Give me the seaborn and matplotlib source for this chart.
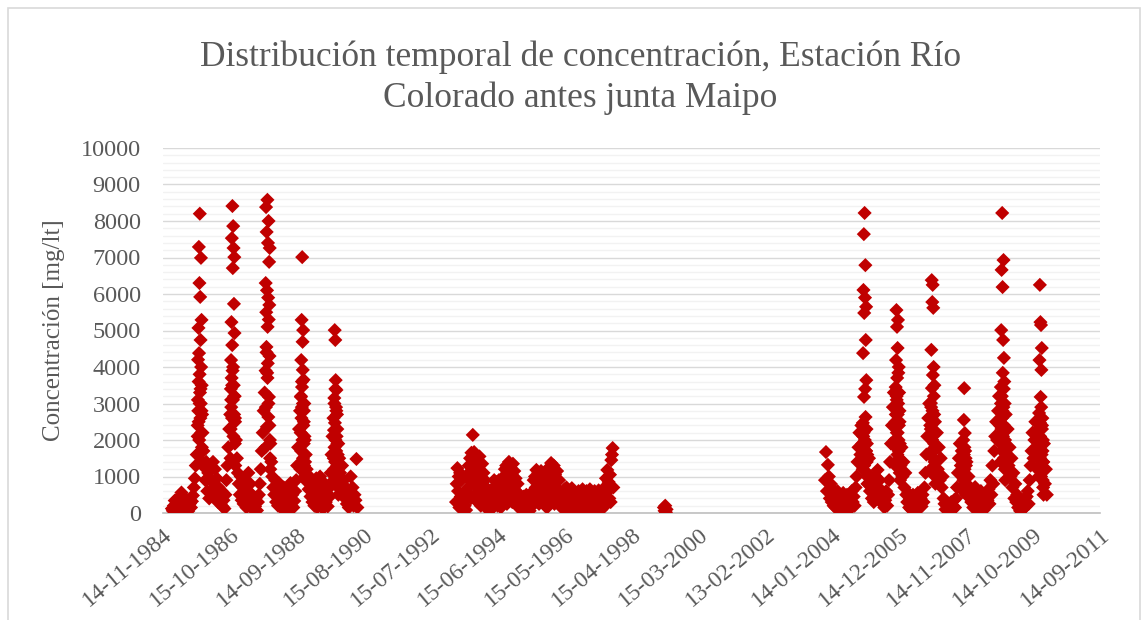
import matplotlib
matplotlib.use("Agg")
import matplotlib.pyplot as plt
import matplotlib.dates as mdates
from matplotlib.ticker import FixedLocator, MultipleLocator
from matplotlib.patches import Rectangle
import pandas as pd
import seaborn as sns

# ---- Registros de concentración [mg/lt] ----
# Serie base 1985-1990 (muestreo cada 10 días desde 1985-02-15)
base_1985_1990 = [
    120, 60, 200, 340, 150, 90, 260, 420, 180, 80,
    560, 300, 140, 70, 220, 380, 110, 50, 180, 260,
    150, 320, 480, 700, 950, 1300, 1600, 2100, 2500, 3000,
    3400, 2800, 2200, 1700, 1250, 900, 1400, 600, 1100, 400,
    1300, 900, 650, 1400, 800, 1200, 500, 950, 300, 700,
    450, 250, 600, 180, 350, 120, 500, 900, 1300, 1800,
    2300, 2700, 3100, 3500, 4000, 3200, 2600, 2000, 1500, 1100,
    800, 500, 1000, 350, 700, 250, 900, 450, 150, 600,
    1100, 300, 800, 200, 500, 90, 350, 180, 420, 70,
    300, 500, 800, 1200, 1700, 2200, 2800, 3300, 3900, 4400,
    3700, 3000, 2400, 1900, 1400, 1000, 700, 500, 900, 300,
    650, 200, 820, 400, 150, 550, 280, 700, 120, 450,
    250, 600, 90, 380, 820, 200, 500, 150, 330, 600,
    900, 1300, 1800, 2300, 2800, 3200, 3600, 3000, 2500, 2000,
    1600, 1200, 900, 650, 1000, 450, 800, 300, 600, 200,
    500, 950, 150, 700, 350, 1000, 250, 600, 120, 400,
    800, 300, 550, 180, 420, 700, 1100, 1600, 2100, 2600,
    3000, 3400, 2800, 2300, 1900, 1500, 1100, 800, 1300, 600,
    900, 400, 700, 250, 550, 150, 450, 1000, 300, 700,
    200, 500, 350, 1480, 150,
]

# Crecidas de verano (muestreo cada 2 días)
crecida_1985 = [1600, 2400, 3100, 4200, 2800, 5070, 3600, 7290, 4380, 2000, 6300, 3800, 8200,
                3300, 5920, 2600, 4740, 3000, 6990, 4000, 2200, 5290, 3500, 1800, 2700, 1400]
crecida_1986 = [1500, 2300, 3400, 4190, 2900, 5230, 3700, 7530, 2600, 4600, 8410, 3900, 6710,
                3100, 7860, 2100, 7260, 3500, 5730, 2700, 7010, 4930, 3200, 1900, 2500, 1300]
crecida_1987 = [1800, 6300, 2900, 8380, 5500, 4550, 7700, 2360, 6100, 3840, 8580, 5100, 4100,
                7400, 5900, 2630, 8000, 5300, 3180, 6880, 5700, 4300, 7260, 2000, 1500, 1200]
crecida_1988 = [1200, 2200, 3180, 1700, 4190, 2600, 5290, 2900, 3450, 7010, 2000, 4690, 3920,
                1500, 5010, 2400, 3650, 1900, 2800, 1300, 3000, 2100, 1600, 1000, 1400, 900]
crecida_1989 = [900, 1500, 2270, 1200, 3150, 1800, 5010, 2470, 1400, 4740, 2000, 3640, 1100,
                2900, 1700, 3370, 2100, 800, 2700, 1300, 1900, 1000, 1600, 700, 1200, 500]

# Serie 1993-1997 (muestreo semanal desde 1993-04-06)
base_1993_1997 = [
    300, 800, 1230, 600, 1000, 150, 1100, 450, 900, 250,
    400, 120, 550, 200, 350, 80, 600, 1050, 700, 1300,
    900, 1500, 400, 1650, 1200, 2140, 800, 1670, 1100, 500,
    1400, 950, 300, 1250, 700, 1550, 1000, 200, 850, 1350,
    600, 1100, 400, 900, 250, 700, 150, 300, 80, 400,
    200, 350, 100, 250, 500, 150, 650, 900, 300, 750,
    450, 850, 200, 600, 900, 350, 700, 150, 500, 250,
    600, 1000, 400, 1200, 800, 1300, 250, 1100, 650, 1400,
    900, 1250, 500, 1050, 300, 1350, 750, 1150, 450, 950,
    600, 200, 800, 350, 150, 500, 250, 100, 400, 180,
    300, 450, 120, 350, 80, 500, 220, 400, 150, 300,
    60, 250, 450, 180, 350, 600, 900, 300, 1000, 700,
    1180, 500, 850, 1100, 250, 950, 650, 1150, 400, 800,
    1050, 300, 600, 200, 450, 800, 150, 1000, 600, 1250,
    350, 900, 1370, 500, 1200, 750, 1300, 250, 1050, 850,
    450, 1150, 650, 300, 900, 200, 550, 400, 150, 300,
    550, 200, 650, 100, 400, 700, 250, 500, 80, 600,
    350, 150, 450, 680, 200, 500, 300, 100, 550, 250,
    400, 60, 300, 600, 180, 450, 250, 500, 120, 650,
    350, 200, 550, 100, 420, 600, 250, 150, 500, 300,
    650, 80, 400, 250, 550, 180, 350, 600, 100, 450,
    300, 500, 150, 620, 250, 400, 80, 350, 200, 500,
    150, 300, 700, 450, 950, 250, 1180, 600, 850, 400,
    1050, 300, 1450, 1600, 1780, 700,
]

# Campaña 1999 (semanal desde 1999-03-20)
base_1999 = [150, 60, 200, 20, 100]

# Serie 2003-2010 (muestreo cada 10 días desde 2003-10-30)
base_2003_2010 = [
    900, 1670, 600, 1320, 1000, 400, 800, 300, 650, 200,
    500, 150, 350, 600, 100, 250, 450, 80, 300, 550,
    200, 400, 120, 500, 250, 80, 350, 180, 600, 300,
    450, 200, 700, 1000, 1400, 1800, 2200, 1600, 2400, 1900,
    2100, 1300, 2300, 1700, 1100, 800, 1500, 600, 1000, 400,
    800, 300, 650, 1000, 500, 1180, 700, 900, 350, 600,
    250, 450, 150, 350, 600, 200, 500, 900, 1400, 1900,
    2400, 2900, 3300, 2000, 2700, 3100, 2200, 1700, 2500, 1300,
    1800, 1000, 1400, 700, 1100, 500, 300, 550, 150, 400,
    100, 350, 500, 200, 60, 450, 250, 550, 120, 300,
    400, 180, 500, 300, 700, 1100, 1600, 2100, 2600, 3000,
    2400, 2900, 2000, 2700, 1700, 2500, 1400, 2200, 1200, 1800,
    900, 1500, 700, 1000, 400, 250, 100, 300, 180, 50,
    250, 120, 300, 80, 200, 350, 150, 400, 700, 1100,
    1500, 1900, 1300, 1700, 1000, 1600, 1200, 800, 1400, 600,
    1000, 450, 700, 300, 500, 150, 350, 710, 200, 480,
    100, 400, 250, 600, 150, 450, 80, 300, 500, 200,
    350, 650, 250, 900, 500, 1300, 800, 1700, 2100, 2500,
    2000, 2800, 3200, 2400, 3000, 2600, 2200, 3400, 1900, 2700,
    1600, 2300, 1300, 1800, 1000, 1500, 700, 1100, 400, 800,
    300, 500, 150, 400, 60, 250, 350, 100, 300, 400,
    180, 450, 600, 250, 900, 1300, 1700, 2200, 1500, 2000,
    2500, 1800, 1200, 2300, 1600, 2100, 1000, 2400, 1400, 1900,
    800, 1200, 500,
]

crecida_2004 = [1200, 2470, 4380, 1800, 6110, 2200, 7640, 3180, 5480, 1500, 8220, 2000, 5900,
                3400, 6790, 2630, 4740, 1700, 5650, 3640, 2300, 1400, 1900, 1000, 1600, 800]
crecida_2005 = [1300, 2500, 3450, 1800, 4190, 2900, 5560, 3200, 2200, 5100, 3700, 1600, 4520,
                2700, 5290, 3000, 3840, 2000, 4000, 2400, 3300, 1500, 2800, 1100, 1900, 900]
crecida_2006 = [1200, 2300, 3010, 1700, 4470, 2600, 6380, 3420, 2000, 5780, 2800, 6250, 3780,
                1500, 5620, 2500, 4000, 3200, 1900, 2700, 3500, 1400, 2200, 1000, 1800, 800]
crecida_2007 = [600, 1200, 2000, 900, 1600, 2550, 1100, 3420, 1800, 1400, 2190, 700, 1700,
                1000, 1500, 800, 1300, 500]
crecida_2008 = [1400, 2600, 3450, 1900, 5010, 2300, 6660, 3200, 1700, 8220, 2800, 6190, 3840,
                2100, 4740, 2900, 6930, 1500, 4250, 2400, 3600, 1800, 3000, 1200, 2000, 900]
crecida_2009 = [1000, 1810, 2740, 1300, 4190, 2080, 6250, 2470, 1500, 5230, 3180, 1900, 5150,
                2900, 3920, 1600, 4520, 2300, 1200, 2600, 1700, 900, 2000, 700, 1400, 500]

# Etiquetas del eje de tiempo (cada 700 días)
inicio_eje = "1984-11-14"
n_marcas = 15
paso_marcas = 700


def serie(inicio, paso_dias, valores):
    fechas = pd.date_range(inicio, periods=len(valores), freq=f"{paso_dias}D")
    return pd.DataFrame({"fecha": fechas, "conc": valores})


datos = pd.concat([
    serie("1985-02-15", 10, base_1985_1990),
    serie("1985-11-10", 2, crecida_1985),
    serie("1986-10-21", 2, crecida_1986),
    serie("1987-10-22", 2, crecida_1987),
    serie("1988-10-22", 2, crecida_1988),
    serie("1989-10-03", 2, crecida_1989),
    serie("1993-04-06", 7, base_1993_1997),
    serie("1999-03-20", 7, base_1999),
    serie("2003-10-30", 10, base_2003_2010),
    serie("2004-11-27", 2, crecida_2004),
    serie("2005-11-03", 2, crecida_2005),
    serie("2006-11-07", 2, crecida_2006),
    serie("2007-10-11", 2, crecida_2007),
    serie("2008-11-07", 2, crecida_2008),
    serie("2009-12-12", 2, crecida_2009),
], ignore_index=True)

sns.set_style("white")
plt.rcParams["font.family"] = ["Liberation Serif", "DejaVu Serif"]
gris = "#595959"

fig = plt.figure(figsize=(11.47, 6.20), dpi=100)
ax = fig.add_axes([163 / 1147, 1 - 513 / 620, 937 / 1147, 365 / 620])

sns.scatterplot(data=datos, x="fecha", y="conc", ax=ax, marker="D", s=52,
                color="#C00000", edgecolor="none", linewidth=0, zorder=3)

marcas = pd.date_range(inicio_eje, periods=n_marcas, freq=f"{paso_marcas}D")
ax.set_xlim(marcas[0], marcas[-1])
ax.xaxis.set_major_locator(FixedLocator(mdates.date2num(marcas)))
ax.xaxis.set_major_formatter(mdates.DateFormatter("%d-%m-%Y"))

ax.set_ylim(0, 10000)
ax.yaxis.set_major_locator(MultipleLocator(1000))
ax.yaxis.set_minor_locator(MultipleLocator(200))
ax.grid(which="major", axis="y", color="#D9D9D9", linewidth=1.0, zorder=0)
ax.grid(which="minor", axis="y", color="#F2F2F2", linewidth=1.0, zorder=0)
ax.grid(which="both", axis="x", visible=False)
ax.set_axisbelow(True)

for lado in ["top", "right", "left"]:
    ax.spines[lado].set_visible(False)
ax.spines["bottom"].set_color("#BFBFBF")
ax.spines["bottom"].set_linewidth(1.2)

ax.tick_params(axis="y", which="both", length=0, pad=16, labelsize=17.5, labelcolor=gris)
ax.tick_params(axis="x", which="both", length=0, pad=8, labelsize=17, labelcolor=gris)
for etiqueta in ax.get_xticklabels():
    etiqueta.set_rotation(40)
    etiqueta.set_ha("right")
    etiqueta.set_va("top")
    etiqueta.set_rotation_mode("anchor")

ax.set_xlabel("")
ax.set_ylabel("Concentración [mg/lt]", fontsize=18, color=gris)
ax.yaxis.set_label_coords(-0.105, 0.5)

fig.text(0.506, 0.874,
         "Distribución temporal de concentración, Estación Río\nColorado antes junta Maipo",
         ha="center", va="center", fontsize=25.5, color=gris, linespacing=1.3)

fig.patches.append(Rectangle((8 / 1147, -0.05), 1132 / 1147, 1 - 8 / 620 + 0.05,
                             transform=fig.transFigure, fill=False,
                             edgecolor="#D9D9D9", linewidth=1.2))

fig.savefig("out.png", dpi=100, facecolor="white")
